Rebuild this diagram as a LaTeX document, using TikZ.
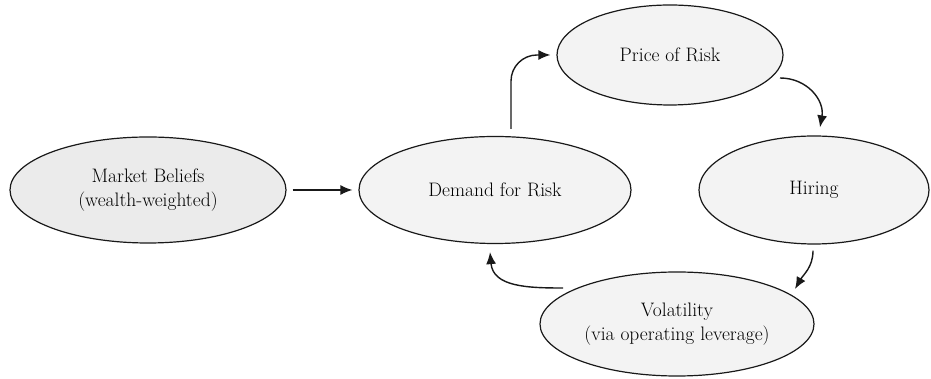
\documentclass[tikz,border=0pt]{standalone}
\usetikzlibrary{shapes.geometric,arrows.meta,calc}
\definecolor{fillA}{HTML}{EBEBEB}
\definecolor{fillB}{HTML}{F3F3F3}
\tikzset{
  bub/.style={ellipse, draw=black!90, line width=1.2pt, fill=fillB, align=center, inner sep=0pt,
    font=\fontsize{19.5}{23.5}\selectfont, text=black},
  arr/.style={line width=1.4pt, draw=black!90, -{Latex[length=12pt,width=10pt]}},
}
\begin{document}
\begin{tikzpicture}[x=1pt,y=1pt]
\useasboundingbox (0,0) rectangle (931,379);
\node[bub, fill=fillA, minimum width=276pt, minimum height=106pt] (M) at (148,189) {Market Beliefs\\(wealth-weighted)};
\node[bub, minimum width=272pt, minimum height=107pt] (D) at (495,189) {Demand for Risk};
\node[bub, minimum width=226pt, minimum height=100pt] (P) at (670,324) {Price of Risk};
\node[bub, minimum width=230pt, minimum height=108pt] (H) at (814,189) {Hiring};
\node[bub, minimum width=274pt, minimum height=104pt] (V) at (677,55) {Volatility\\(via operating leverage)};
\draw[arr, shorten <=6pt, shorten >=6pt] (M) -- (D);
\draw[arr, rounded corners=26pt] ($(D.north)+(16,7)$) |- ($(P.west)+(-6,0)$);
\draw[arr] ($(P.center)+(110,-23)$) to[out=0,in=80,looseness=1.1] ($(H.north)+(6,8)$);
\draw[arr] ($(H.south)+(-1,-6)$) to[out=-90,in=60] ($(V.center)+(118,35)$);
\draw[arr] ($(V.center)+(-114,36)$) to[out=180,in=-85,looseness=1.1] ($(D.south)+(-5,-8)$);
\end{tikzpicture}
\end{document}
